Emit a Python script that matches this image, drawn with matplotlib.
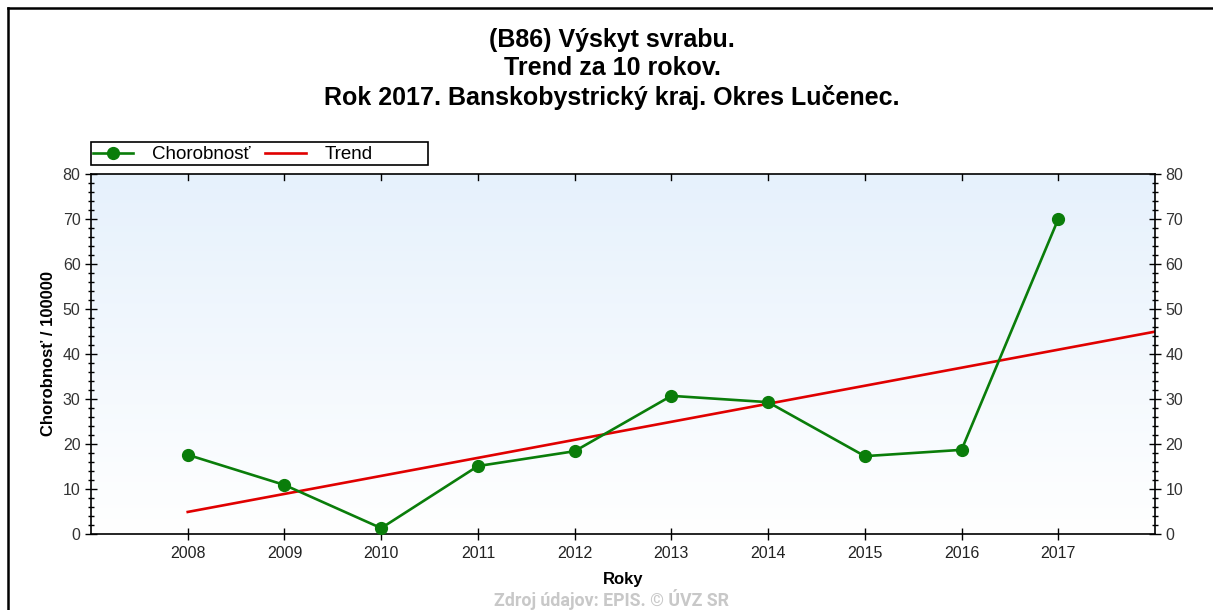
import numpy as np
import matplotlib.pyplot as plt
from matplotlib.lines import Line2D
from matplotlib.patches import Rectangle

# data
roky = [2008, 2009, 2010, 2011, 2012, 2013, 2014, 2015, 2016, 2017]
chorobnost = [17.6, 10.9, 1.3, 15.1, 18.4, 30.7, 29.3, 17.3, 18.7, 70.0]

nadpis = "(B86) Výskyt svrabu.\nTrend za 10 rokov.\nRok 2017. Banskobystrický kraj. Okres Lučenec."
zdroj = "Zdroj údajov: EPIS. © ÚVZ SR"

plt.rcParams['font.family'] = ['Liberation Sans', 'DejaVu Sans']

W, H = 1213, 610
fig = plt.figure(figsize=(W / 100, H / 100), dpi=100)
ax = fig.add_axes([91 / W, 1 - 534 / H, (1155 - 91) / W, (534 - 174) / H])

# gradient background (light blue on top -> white)
grad = np.linspace(0, 1, 256).reshape(-1, 1, 1)
top_c = np.array([230, 241, 252]) / 255
bot_c = np.array([255, 255, 255]) / 255
img = top_c * (1 - grad) + bot_c * grad
ax.imshow(img, extent=[0, 1, 0, 1], transform=ax.transAxes, aspect='auto', zorder=0)

# trend = linear fit extended to the axis end
k, q = np.polyfit(roky, chorobnost, 1)
tx = np.array([roky[0], 2018])
ax.plot(tx, k * tx + q, color='#e00000', lw=1.9, zorder=2, label='Trend')
ax.plot(roky, chorobnost, color='#0a7d0a', lw=1.9, marker='o', ms=8.5,
        zorder=3, label='Chorobnosť', clip_on=False)

ax.set_xlim(2007, 2018)
ax.set_ylim(0, 80)
ax.set_xticks(roky)
ax.set_yticks(range(0, 81, 10))
ax.set_yticks(range(0, 81, 2), minor=True)

ax.tick_params(axis='x', direction='inout', length=9, width=1, labelsize=11.5, pad=4,
               top=False, labelcolor='#222222')
ax.tick_params(axis='y', which='major', direction='inout', length=9, width=1,
               left=True, right=True, labelleft=True, labelright=True, labelsize=11.5,
               labelcolor='#333333', pad=3)
ax.tick_params(axis='y', which='minor', direction='inout', length=5, width=1,
               left=True, right=True)
for s in ax.spines.values():
    s.set_linewidth(1.2)

# top ticks point inwards only
for x in roky:
    ax.plot([x, x], [80, 78.6], color='black', lw=1, zorder=4)

ax.set_xlabel('Roky', fontsize=12, fontweight='bold', labelpad=8)
ax.set_ylabel('Chorobnosť / 100000', fontsize=12, fontweight='bold', labelpad=5)

h, l = ax.get_legend_handles_labels()
leg = ax.legend(h[::-1], l[::-1], loc='lower left', ncol=2,
                bbox_to_anchor=(0, 1 + 9 / 360), borderaxespad=0, frameon=False,
                fontsize=13.5, handlelength=2.15, borderpad=0.1, handletextpad=1.0,
                columnspacing=0.8)
ax.add_patch(Rectangle((0, 1 + 9 / 360), 337 / 1064, 23 / 360, transform=ax.transAxes,
                       fill=False, edgecolor='black', lw=1.2, clip_on=False))

fig.text(612 / W, 1 - 69 / H, nadpis, ha='center', va='center', fontsize=18,
         fontweight='bold', linespacing=1.24)
fig.text(611 / W, 1 - 600 / H, zdroj, ha='center', va='center', fontsize=12.8,
         fontweight='bold', color='#c8c8c8', family=['Roboto', 'DejaVu Sans'])

# frame of the picture (top and left edge)
fig.add_artist(Line2D([7.5 / W, 7.5 / W], [0, 1 - 8 / H], color='black', lw=1.8))
fig.add_artist(Line2D([7.5 / W, 1], [1 - 8 / H, 1 - 8 / H], color='black', lw=1.8))

fig.savefig('out.png', dpi=100)
